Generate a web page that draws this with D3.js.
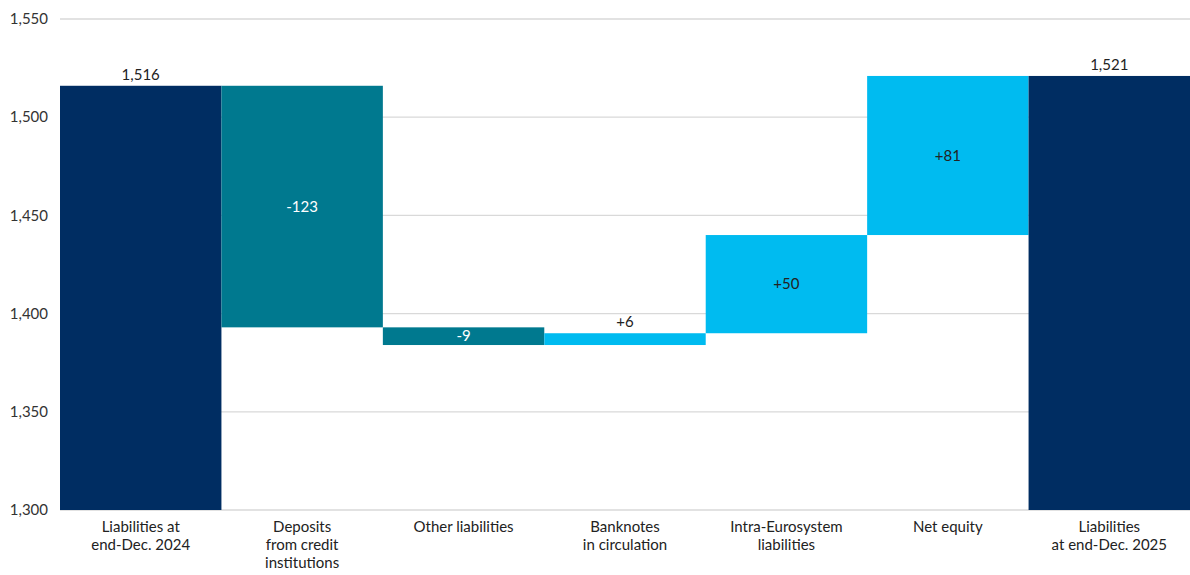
<!DOCTYPE html>
<html>
<head>
<meta charset="utf-8">
<script src="https://cdn.jsdelivr.net/npm/d3@7"></script>
<style>
  body { margin: 0; background: #fff; }
  svg { font-family: Lato, "Open Sans", sans-serif; }
</style>
</head>
<body>
<svg id="chart"></svg>
<script>
// data
const categories = [
  ["Liabilities at", "end-Dec. 2024"],
  ["Deposits", "from credit", "institutions"],
  ["Other liabilities"],
  ["Banknotes", "in circulation"],
  ["Intra-Eurosystem", "liabilities"],
  ["Net equity"],
  ["Liabilities", "at end-Dec. 2025"]
];
const kinds = ["total", "change", "change", "change", "change", "change", "total"];
const values = [1516, -123, -9, 6, 50, 81, 1521];
const yTicks = [1300, 1350, 1400, 1450, 1500, 1550];

const width = 1190;
const height = 575;
const margin = { top: 19, right: 0, bottom: 65, left: 60 };

const svg = d3.select("#chart").attr("width", width).attr("height", height);

const x = d3.scaleBand()
  .domain(d3.range(categories.length))
  .range([margin.left, width - margin.right])
  .padding(0);

const y = d3.scaleLinear()
  .domain([1300, 1550])
  .range([height - margin.bottom, margin.top]);

// build waterfall steps
let running = 0;
const steps = values.map((v, i) => {
  let start, end;
  if (kinds[i] === "total") { start = 1300; end = v; running = v; }
  else { start = running; end = running + v; running = end; }
  return { i, v, start, end, kind: kinds[i] };
});

function colour(d) {
  if (d.kind === "total") return "#002d62";
  return d.v < 0 ? "#00798f" : "#00bbf0";
}

// gridlines
svg.append("g")
  .selectAll("line")
  .data(yTicks)
  .join("line")
  .attr("x1", margin.left)
  .attr("x2", width - margin.right)
  .attr("y1", d => y(d))
  .attr("y2", d => y(d))
  .attr("stroke", "#d9d9d9")
  .attr("stroke-width", 1.3);

// y axis labels
svg.append("g")
  .selectAll("text")
  .data(yTicks)
  .join("text")
  .attr("x", 48)
  .attr("y", d => y(d))
  .attr("dy", "0.35em")
  .attr("text-anchor", "end")
  .attr("font-size", 15)
  .attr("fill", "#333")
  .text(d => d3.format(",")(d));

// bars
svg.append("g")
  .selectAll("rect")
  .data(steps)
  .join("rect")
  .attr("x", d => x(d.i))
  .attr("width", x.bandwidth())
  .attr("y", d => y(Math.max(d.start, d.end)))
  .attr("height", d => Math.abs(y(d.start) - y(d.end)))
  .attr("fill", colour);

// value labels
svg.append("g")
  .selectAll("text")
  .data(steps)
  .join("text")
  .attr("x", d => x(d.i) + x.bandwidth() / 2)
  .attr("y", d => {
    const top = y(Math.max(d.start, d.end));
    const h = Math.abs(y(d.start) - y(d.end));
    if (d.kind === "total" || d.v === 6) return top - 6;
    return top + h / 2;
  })
  .attr("dy", d => (d.kind === "total" || d.v === 6) ? 0 : "0.35em")
  .attr("text-anchor", "middle")
  .attr("font-size", 15)
  .attr("fill", d => (d.kind === "change" && d.v < 0) ? "#fff" : "#222")
  .text(d => d.kind === "total" ? d3.format(",")(d.v) : (d.v > 0 ? "+" + d.v : String(d.v)));

// category labels
const cat = svg.append("g")
  .selectAll("text")
  .data(categories)
  .join("text")
  .attr("x", (d, i) => x(i) + x.bandwidth() / 2)
  .attr("y", 532)
  .attr("text-anchor", "middle")
  .attr("font-size", 15)
  .attr("fill", "#222");

cat.selectAll("tspan")
  .data(d => d)
  .join("tspan")
  .attr("x", function () { return d3.select(this.parentNode).attr("x"); })
  .attr("dy", (d, i) => i === 0 ? 0 : 18)
  .text(d => d);
</script>
</body>
</html>
